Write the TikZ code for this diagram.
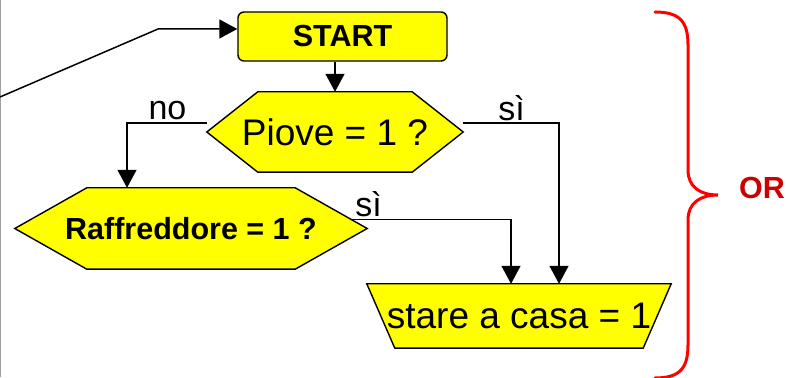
\documentclass[tikz,border=0pt]{standalone}
\usepackage{fontspec}
\setmainfont{Liberation Sans}
\usetikzlibrary{arrows.meta,backgrounds}
\definecolor{shapeyellow}{RGB}{255,255,0}
\definecolor{ordark}{RGB}{204,0,0}
\definecolor{bordergray}{RGB}{160,160,160}
\tikzset{
  x=1pt,y=1pt,
  conn/.style={line width=1.5pt,-{Triangle[length=18pt,width=19pt]}},
  shapeline/.style={draw=black,line width=1.4pt,fill=shapeyellow,line join=miter},
  startbox/.style={shapeline,rounded corners=6pt,minimum width=209pt,minimum height=49pt,inner sep=0pt,font=\fontsize{30.5}{32}\selectfont\bfseries},
  plaintext/.style={inner sep=0pt,font=\fontsize{37}{40}\selectfont},
  boldtext/.style={inner sep=0pt,font=\fontsize{30.5}{32}\selectfont\bfseries},
  lbl/.style={inner sep=0pt,anchor=base,font=\fontsize{34}{36}\selectfont},
  brace/.style={draw=red,line width=3pt,line cap=round},
  ortext/.style={inner sep=0pt,text=ordark,font=\fontsize{30.5}{32}\selectfont\bfseries}
}
\begin{document}
\begin{tikzpicture}
\useasboundingbox (0,0) rectangle (786,377);
% slide border
\draw[bordergray,line width=1.2pt] (0.6,0) -- (0.6,377);

% nodes
\node[startbox] (start) at (342.5,340.5) {START};
\node[plaintext,minimum width=256pt,minimum height=80pt] (piove) at (335,245) {Piove = 1 ?};
\node[boldtext,minimum width=352pt,minimum height=81pt] (raff) at (191,148.5) {Raffreddore = 1 ?};
\node[plaintext,minimum width=304pt,minimum height=64pt] (casa) at (519,61) {stare a casa = 1};

\begin{scope}[on background layer]
\path[shapeline] (piove.west) -- ([xshift=51pt]piove.north west) -- ([xshift=-51pt]piove.north east)
  -- (piove.east) -- ([xshift=-51pt]piove.south east) -- ([xshift=51pt]piove.south west) -- cycle;
\path[shapeline] (raff.west) -- ([xshift=72pt]raff.north west) -- ([xshift=-72pt]raff.north east)
  -- (raff.east) -- ([xshift=-72pt]raff.south east) -- ([xshift=72pt]raff.south west) -- cycle;
\path[shapeline] (casa.north west) -- (casa.north east) -- ([xshift=-28pt]casa.south east)
  -- ([xshift=28pt]casa.south west) -- cycle;
\end{scope}

% connectors
\coordinate (e0) at (0,280);
\coordinate (e1) at (158,348);
\draw[conn] (e0) -- (e1) -- (e1 -| start.west);
\draw[conn] (piove.north |- start.south) -- (piove.north);

\coordinate (nox) at (127,0);
\draw[conn] ([yshift=9pt]piove.west) -| (nox |- raff.north);
\node[lbl] (nolbl) at (167.5,257) {no};

\coordinate (six) at (559,0);
\draw[conn] ([yshift=9pt]piove.east) -| (six |- casa.north);
\node[lbl] (si1lbl) at (511.5,256) {sì};

\coordinate (rix) at (511,0);
\draw[conn] ([xshift=-15pt,yshift=9pt]raff.east) -| (rix |- casa.north);
\node[lbl] (si2lbl) at (368.5,160) {sì};

% brace
\draw[brace] (655,365) .. controls (680,365) and (688,355) .. (688,332)
  -- (688,207) .. controls (688,190) and (700,182) .. (718,182)
  .. controls (700,182) and (688,174) .. (688,157)
  -- (688,32) .. controls (688,9) and (680,-1) .. (655,-1);
\node[ortext] (ortxt) at (762,189) {OR};
\end{tikzpicture}
\end{document}
